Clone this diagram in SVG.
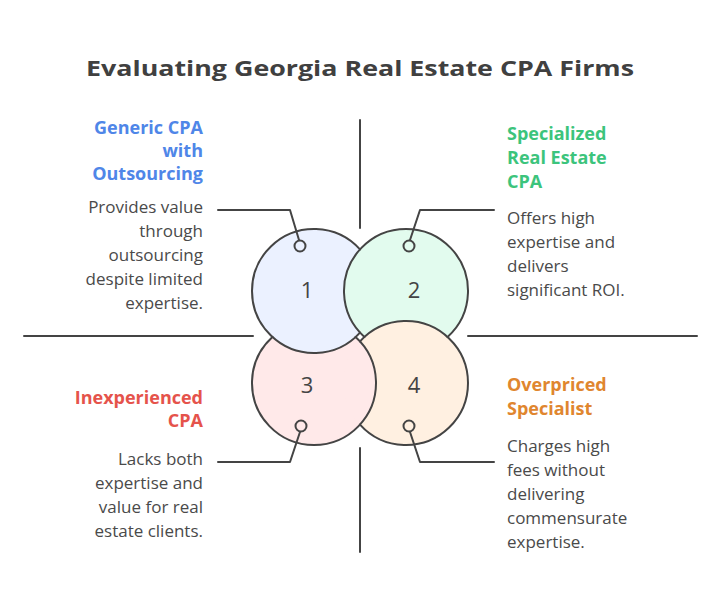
<svg xmlns="http://www.w3.org/2000/svg" width="721" height="600" viewBox="0 0 721 600">
<style>
.title{font-family:"Open Sans","Liberation Sans",sans-serif;font-weight:700;font-size:21px;fill:#404040}
.head{font-family:"Open Sans","Liberation Sans",sans-serif;font-weight:700;font-size:18px}
.body{font-family:"Open Sans","Liberation Sans",sans-serif;font-size:17px;fill:#4a4a4a}
.num{font-family:"Open Sans","Liberation Sans",sans-serif;font-size:22px;fill:#444;text-anchor:middle}
.arc{stroke:#444;stroke-width:2;fill:none;stroke-linecap:round}
.ln{stroke:#444;stroke-width:2;fill:none;stroke-linecap:round;stroke-linejoin:round}
.dot{fill:none;stroke:#444;stroke-width:2}
.r{text-anchor:end}
</style>
<defs>
<clipPath id="clip4"><circle cx="406" cy="383" r="62.6"/></clipPath>
</defs>
<rect width="721" height="600" fill="#fff"/>
<text class="title" x="360" y="76" text-anchor="middle" textLength="548" lengthAdjust="spacingAndGlyphs">Evaluating Georgia Real Estate CPA Firms</text>
<g id="axes">
<line class="ln" x1="360" y1="120" x2="360" y2="228"/>
<line class="ln" x1="360" y1="448" x2="360" y2="552"/>
<line class="ln" x1="24" y1="336" x2="253" y2="336"/>
<line class="ln" x1="468" y1="336" x2="697" y2="336"/>
</g>
<g id="circles">
<circle cx="314" cy="383" r="62" fill="#ffe9e9"/>
<circle cx="314" cy="291" r="62" fill="#ebf1ff"/>
<circle cx="406" cy="291" r="62" fill="#e2fbee"/>
<circle cx="406" cy="383" r="62" fill="#fff0e1"/>
<g clip-path="url(#clip4)"><circle cx="314" cy="383" r="62" fill="#ffe9e9"/></g>
<path class="arc" d="M360 249.43 A62 62 0 1 0 360 332.57"/>
<path class="arc" d="M364.43 337 A62 62 0 1 1 447.57 337"/>
<path class="arc" d="M360 341.43 A62 62 0 1 1 360 424.57"/>
<path class="arc" d="M355.57 337 A62 62 0 1 1 272.43 337"/>
</g>
<g id="node1">
<text class="num" x="307" y="298">1</text>
<text class="head r" x="203" y="134" fill="#4f86e8">Generic CPA</text>
<text class="head r" x="203" y="157" fill="#4f86e8">with</text>
<text class="head r" x="203" y="180" fill="#4f86e8">Outsourcing</text>
<text class="body r" x="203" y="213">Provides value</text>
<text class="body r" x="203" y="237">through</text>
<text class="body r" x="203" y="261">outsourcing</text>
<text class="body r" x="203" y="285">despite limited</text>
<text class="body r" x="203" y="309">expertise.</text>
</g>
<g id="node2">
<text class="num" x="414" y="298">2</text>
<text class="head" x="507" y="140" fill="#3cc47c">Specialized</text>
<text class="head" x="507" y="164" fill="#3cc47c">Real Estate</text>
<text class="head" x="507" y="188" fill="#3cc47c">CPA</text>
<text class="body" x="507" y="224">Offers high</text>
<text class="body" x="507" y="248">expertise and</text>
<text class="body" x="507" y="272">delivers</text>
<text class="body" x="507" y="296">significant ROI.</text>
</g>
<g id="node3">
<text class="num" x="307" y="393">3</text>
<text class="head r" x="203" y="404" fill="#e5534b">Inexperienced</text>
<text class="head r" x="203" y="427" fill="#e5534b">CPA</text>
<text class="body r" x="203" y="465">Lacks both</text>
<text class="body r" x="203" y="489">expertise and</text>
<text class="body r" x="203" y="513">value for real</text>
<text class="body r" x="203" y="537">estate clients.</text>
</g>
<g id="node4">
<text class="num" x="414" y="393">4</text>
<text class="head" x="507" y="391" fill="#e0862f">Overpriced</text>
<text class="head" x="507" y="415" fill="#e0862f">Specialist</text>
<text class="body" x="507" y="452">Charges high</text>
<text class="body" x="507" y="476">fees without</text>
<text class="body" x="507" y="500">delivering</text>
<text class="body" x="507" y="524">commensurate</text>
<text class="body" x="507" y="548">expertise.</text>
</g>
<g id="connectors">
<path class="ln" d="M218 210 H290 L299 240"/>
<circle class="dot" cx="300" cy="246" r="5.5"/>
<path class="ln" d="M494 210 H420 L410 240"/>
<circle class="dot" cx="409" cy="246" r="5.5"/>
<path class="ln" d="M218 462 H290 L300 432"/>
<circle class="dot" cx="301" cy="426" r="5.5"/>
<path class="ln" d="M494 462 H420 L410 432"/>
<circle class="dot" cx="409" cy="426" r="5.5"/>
</g>
</svg>
